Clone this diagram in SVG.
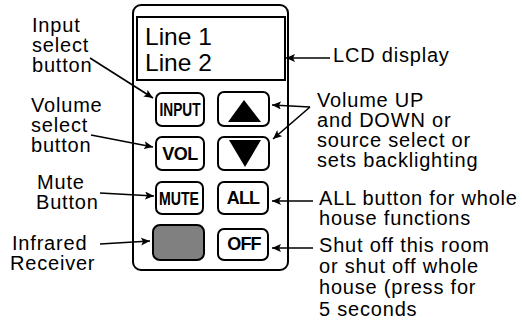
<svg xmlns="http://www.w3.org/2000/svg" width="522" height="322" viewBox="0 0 522 322">
<defs>
<marker id="ah" markerWidth="10" markerHeight="8" refX="9" refY="4" orient="auto" markerUnits="userSpaceOnUse">
<path d="M0,0 L9,4 L0,8 L2,4 Z" fill="#000"/>
</marker>
<style>
.lbl{font-family:"Liberation Sans",Arial,sans-serif;font-size:20px;letter-spacing:0.8px;fill:#000}
.btn{fill:#fff;stroke:#000;stroke-width:2}
.bt{font-family:"Liberation Sans",Arial,sans-serif;font-weight:bold;fill:#000;text-anchor:middle}
.con{stroke:#000;stroke-width:1.6;fill:none;marker-end:url(#ah)}
</style>
</defs>
<rect width="522" height="322" fill="#fff"/>
<g id="remote">
<rect x="133" y="5" width="155" height="265" rx="8" fill="#fff" stroke="#000" stroke-width="2"/>
</g>
<g id="lcd">
<rect x="137" y="17" width="148" height="63" fill="#fff" stroke="#000" stroke-width="2"/>
<text x="145" y="45" font-family="Liberation Sans, Arial, sans-serif" font-size="24.5">Line 1</text>
<text x="145" y="71" font-family="Liberation Sans, Arial, sans-serif" font-size="24.5">Line 2</text>
</g>
<g id="btn-input">
<rect class="btn" x="156" y="93" width="48" height="33" rx="6"/>
<text class="bt" x="180" y="115.5" font-size="18.5" textLength="41" lengthAdjust="spacingAndGlyphs">INPUT</text>
</g>
<g id="btn-up">
<rect class="btn" x="218" y="92" width="51" height="34" rx="6"/>
<polygon points="244,100 228,122 261,122" fill="#000"/>
</g>
<g id="btn-vol">
<rect class="btn" x="156" y="137" width="48" height="33" rx="6"/>
<text class="bt" x="180" y="159.5" font-size="18" letter-spacing="-0.5">VOL</text>
</g>
<g id="btn-down">
<rect class="btn" x="218" y="137" width="51" height="33" rx="6"/>
<polygon points="229,140 261,140 245,167" fill="#000"/>
</g>
<g id="btn-mute">
<rect class="btn" x="156" y="182" width="47" height="32" rx="6"/>
<text class="bt" x="179" y="205" font-size="18" textLength="40" lengthAdjust="spacingAndGlyphs">MUTE</text>
</g>
<g id="btn-all">
<rect class="btn" x="218" y="182" width="50" height="32" rx="6"/>
<text class="bt" x="243" y="203.5" font-size="18" letter-spacing="-0.8">ALL</text>
</g>
<g id="ir">
<rect x="153" y="225" width="51" height="35" rx="7" fill="#808080" stroke="#000" stroke-width="2"/>
</g>
<g id="btn-off">
<rect class="btn" x="218" y="229" width="50" height="31" rx="6"/>
<text class="bt" x="244" y="249.5" font-size="18" letter-spacing="-0.8">OFF</text>
</g>
<g id="labels">
<text class="lbl" x="32" y="32">Input</text>
<text class="lbl" x="32" y="52">select</text>
<text class="lbl" x="32" y="72">button</text>
<text class="lbl" x="31" y="112">Volume</text>
<text class="lbl" x="31" y="132">select</text>
<text class="lbl" x="31" y="152">button</text>
<text class="lbl" x="37" y="189">Mute</text>
<text class="lbl" x="36" y="209">Button</text>
<text class="lbl" x="12" y="250">Infrared</text>
<text class="lbl" x="10" y="270">Receiver</text>
<text class="lbl" x="333" y="62">LCD display</text>
<text class="lbl" x="317" y="107">Volume UP</text>
<text class="lbl" x="317" y="127">and DOWN or</text>
<text class="lbl" x="317" y="147">source select or</text>
<text class="lbl" x="317" y="167">sets backlighting</text>
<text class="lbl" x="319" y="205">ALL button for whole</text>
<text class="lbl" x="319" y="225">house functions</text>
<text class="lbl" x="319" y="252">Shut off this room</text>
<text class="lbl" x="319" y="273">or shut off whole</text>
<text class="lbl" x="319" y="294">house (press for</text>
<text class="lbl" x="319" y="316">5 seconds</text>
</g>
<g id="connectors">
<line class="con" x1="90" y1="58" x2="153" y2="98"/>
<line class="con" x1="91" y1="135" x2="153" y2="147"/>
<line class="con" x1="100" y1="193" x2="154" y2="196"/>
<line class="con" x1="100" y1="244" x2="150" y2="241"/>
<line class="con" x1="330" y1="58" x2="286" y2="58"/>
<line class="con" x1="310" y1="107" x2="272" y2="105"/>
<line class="con" x1="310" y1="107" x2="273" y2="139"/>
<line class="con" x1="313" y1="201" x2="272" y2="201"/>
<line class="con" x1="313" y1="248" x2="272" y2="248"/>
</g>
</svg>
